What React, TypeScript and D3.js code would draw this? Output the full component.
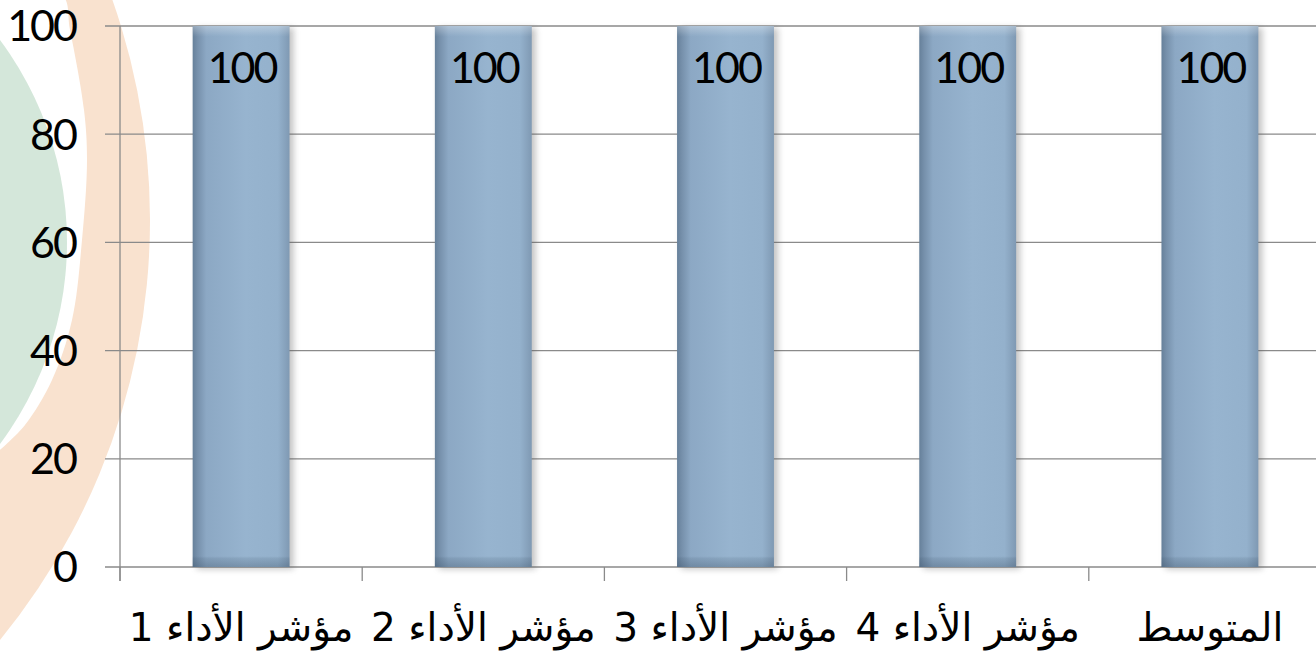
import React from "react";
import * as d3 from "d3";

const categories = [
  "مؤشر الأداء 1",
  "مؤشر الأداء 2",
  "مؤشر الأداء 3",
  "مؤشر الأداء 4",
  "المتوسط",
];
const values = [100, 100, 100, 100, 100];
const yTicks = [0, 20, 40, 60, 80, 100];

const W = 1316;
const H = 651;

const numFont = "Lato, 'Open Sans', sans-serif";

export default function App() {
  const margin = { top: 26, left: 120, bottom: 84 };
  const y = d3.scaleLinear().domain([0, 100]).range([H - margin.bottom, margin.top]);
  // the last band runs off the right edge, like in the slide
  const x = d3.scaleBand<string>().domain(categories).range([margin.left, 1331]).padding(0);
  const barW = x.bandwidth() / 2.5;
  const y0 = y(0);

  // white gap between the two watermark arcs
  const gap = d3.line().curve(d3.curveCatmullRom)([
    [0, -5], [62, -5], [70, 30], [84, 110], [87, 160], [82, 240],
    [72, 320], [52, 380], [25, 425], [0, 450],
  ]);

  return (
    <svg
      width={W}
      height={H}
      style={{ position: "absolute", left: 0, top: 0, background: "#fff" }}
    >
      <defs>
        <linearGradient id="barH" x1="0" x2="1" y1="0" y2="0">
          <stop offset="0%" stopColor="#66809a" />
          <stop offset="5%" stopColor="#7690ab" />
          <stop offset="14%" stopColor="#8ca8c4" />
          <stop offset="55%" stopColor="#97b4cf" />
          <stop offset="88%" stopColor="#94b1cc" />
          <stop offset="100%" stopColor="#7f99b3" />
        </linearGradient>
        <linearGradient id="barV" x1="0" x2="0" y1="0" y2="1">
          <stop offset="0%" stopColor="#ffffff" stopOpacity={0.3} />
          <stop offset="1.6%" stopColor="#ffffff" stopOpacity={0.05} />
          <stop offset="2%" stopColor="#ffffff" stopOpacity={0} />
          <stop offset="98%" stopColor="#2d4257" stopOpacity={0} />
          <stop offset="98.4%" stopColor="#2d4257" stopOpacity={0.12} />
          <stop offset="100%" stopColor="#2d4257" stopOpacity={0.3} />
        </linearGradient>
        <filter id="shadow" x="-20%" y="-5%" width="140%" height="110%">
          <feGaussianBlur stdDeviation="3" />
        </filter>
      </defs>

      {/* faded logo watermark behind the chart */}
      <g>
        <circle cx={-513} cy={220} r={663} fill="#f9e2cf" />
        <path d={gap!} fill="#ffffff" />
        <circle cx={-271} cy={242} r={338} fill="#d4e7da" />
      </g>

      {/* gridlines + y ticks */}
      {yTicks.map((t) => (
        <g key={t}>
          <line x1={105} x2={W} y1={y(t)} y2={y(t)} stroke="#8a8a8a" strokeWidth={1.3} />
          <text
            x={76}
            y={y(t)}
            dy="0.36em"
            textAnchor="end"
            fontFamily={numFont}
            fontSize={43}
            letterSpacing={-2}
            fill="#000"
          >
            {t}
          </text>
        </g>
      ))}

      {/* y axis line */}
      <line x1={margin.left} x2={margin.left} y1={y(100)} y2={y0 + 14} stroke="#8a8a8a" strokeWidth={1.3} />

      {/* x ticks at band edges */}
      {categories.map((c) => (
        <line
          key={c}
          x1={x(c)!}
          x2={x(c)!}
          y1={y0}
          y2={y0 + 14}
          stroke="#8a8a8a"
          strokeWidth={1.3}
        />
      ))}

      {/* bars */}
      {categories.map((c, i) => {
        const bx = x(c)! + x.bandwidth() / 2 - barW / 2;
        const by = y(values[i]);
        const bh = y0 - by;
        return (
          <g key={c}>
            <rect x={bx + 4} y={by + 2} width={barW} height={bh} fill="#555" opacity={0.35} filter="url(#shadow)" />
            <rect x={bx} y={by} width={barW} height={bh} fill="url(#barH)" />
            <rect x={bx} y={by} width={barW} height={bh} fill="url(#barV)" />
            <text
              x={bx + barW / 2 + 1}
              y={by + 57}
              textAnchor="middle"
              fontFamily={numFont}
              fontSize={43}
              letterSpacing={-2}
              fill="#000"
            >
              {values[i]}
            </text>
          </g>
        );
      })}

      {/* category labels */}
      {categories.map((c) => (
        <text
          key={c}
          x={x(c)! + x.bandwidth() / 2}
          y={641}
          textAnchor="middle"
          direction="rtl"
          fontFamily="'DejaVu Sans', sans-serif"
          fontSize={39}
          fill="#000"
        >
          {c}
        </text>
      ))}
    </svg>
  );
}
